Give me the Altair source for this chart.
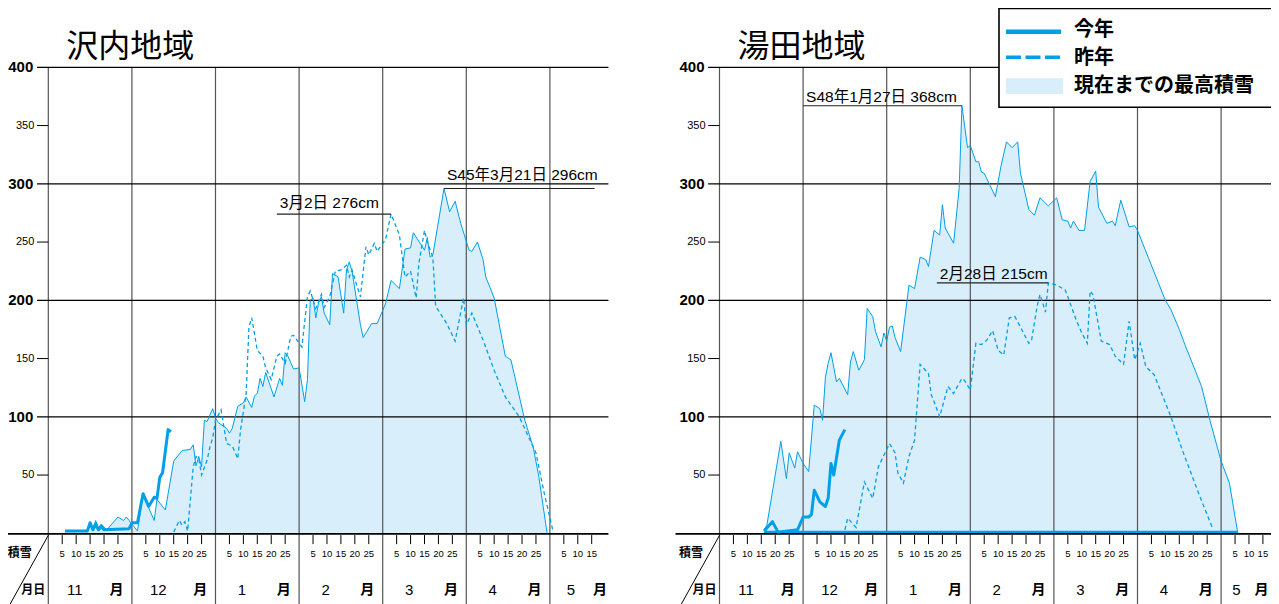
import altair as alt
import pandas as pd

# ---------------- data ----------------
MONTHS = [11, 12, 1, 2, 3, 4, 5]
MONTH_NAMES = ["11", "12", "1", "2", "3", "4", "5"]
DAY_TICKS = [5, 10, 15, 20, 25]
LAST_MONTH_TICKS = [5, 10, 15]
Y_MAJOR = [100, 200, 300, 400]
Y_MINOR = [50, 150, 250, 350]
REGIONS = ["沢内地域", "湯田地域"]
LEGEND_LABELS = ["今年", "昨年", "現在までの最高積雪"]

# 沢内地域 : highest snow depth so far (envelope)
SAWA_MAX_DATES = ["11/6", "11/14", "11/15", "11/16", "11/17", "11/18", "11/19", "11/21", "11/25", "11/27", "11/28", "11/30",
                  "12/2", "12/4", "12/6", "12/8", "12/9", "12/12", "12/15", "12/18", "12/21", "12/22", "12/23", "12/24", "12/25", "12/26", "12/27", "12/29", "12/30",
                  "1/1", "1/4", "1/5", "1/6", "1/8", "1/10", "1/11", "1/13", "1/14", "1/15", "1/16", "1/17", "1/18", "1/21", "1/23", "1/24", "1/25", "1/26", "1/28", "1/30",
                  "2/2", "2/3", "2/4", "2/5", "2/6", "2/7", "2/8", "2/9", "2/11", "2/12", "2/14", "2/16", "2/17", "2/18", "2/19", "2/22", "2/23", "2/26", "2/28",
                  "3/1", "3/3", "3/6", "3/8", "3/10", "3/11", "3/15", "3/16", "3/17", "3/18", "3/22", "3/24", "3/26", "3/28",
                  "4/1", "4/2", "4/4", "4/6", "4/7", "4/10", "4/14", "4/16", "4/21", "4/24", "4/26", "4/29"]
SAWA_MAX = [2, 2, 10, 3, 11, 4, 8, 3, 14, 11, 14, 8,
            2, 34, 22, 11, 29, 20, 62, 71, 72, 76, 58, 66, 57, 97, 96, 107, 99,
            95, 90, 86, 90, 109, 112, 117, 108, 118, 120, 133, 126, 138, 117, 133, 127, 155, 152, 141, 142,
            113, 132, 200, 202, 185, 198, 203, 189, 179, 223, 220, 189, 226, 233, 225, 179, 168, 180, 180,
            197, 217, 210, 244, 245, 258, 243, 254, 237, 239, 296, 276, 285, 266,
            243, 242, 250, 235, 220, 202, 152, 149, 97, 74, 49, 0]

# 沢内地域 : this season
SAWA_NOW_DATES = ["11/6", "11/14", "11/15", "11/16", "11/17", "11/18", "11/19", "11/20", "11/29", "11/30",
                  "12/2", "12/4", "12/6", "12/8", "12/9", "12/10", "12/11", "12/13", "12/14"]
SAWA_NOW = [2, 2, 9, 3, 8, 3, 6, 3, 4, 9,
            9, 34, 23, 31, 30, 48, 52, 89, 87]

# 沢内地域 : last season
SAWA_LAST_DATES = ["12/15", "12/17", "12/18", "12/19", "12/20", "12/22", "12/23", "12/24", "12/25", "12/27", "12/28", "12/29", "12/30",
                   "1/2", "1/4", "1/6", "1/8", "1/9", "1/11", "1/12", "1/13", "1/15", "1/17", "1/18", "1/20", "1/22", "1/23", "1/25", "1/27", "1/28",
                   "2/1", "2/3", "2/4", "2/6", "2/8", "2/9", "2/11", "2/13", "2/15", "2/17", "2/18", "2/19", "2/22", "2/24", "2/25", "2/27", "2/28",
                   "3/1", "3/3", "3/6", "3/8", "3/10", "3/12", "3/13", "3/15", "3/16", "3/18", "3/19", "3/23", "3/26", "3/29", "3/30",
                   "4/2", "4/6", "4/10", "4/14", "4/19", "4/25", "4/28", "5/1"]
SAWA_LAST = [1, 11, 7, 10, 2, 57, 66, 64, 50, 63, 74, 82, 97,
             106, 77, 75, 64, 89, 120, 177, 185, 157, 152, 142, 132, 152, 154, 146, 169, 170,
             160, 203, 208, 193, 205, 194, 203, 225, 226, 230, 220, 226, 203, 246, 239, 249, 242,
             252, 274, 256, 220, 225, 202, 232, 260, 250, 237, 195, 180, 165, 202, 179,
             189, 166, 140, 117, 100, 69, 34, 3]

# 湯田地域 : highest snow depth so far (envelope)
YUDA_MAX_DATES = ["11/16", "11/17", "11/22", "11/24", "11/25", "11/27", "11/28", "11/30",
                  "12/2", "12/4", "12/6", "12/7", "12/8", "12/9", "12/10", "12/12", "12/13", "12/16", "12/17", "12/18", "12/20", "12/22", "12/23", "12/25", "12/26", "12/28", "12/29", "12/30",
                  "1/1", "1/2", "1/3", "1/5", "1/8", "1/10", "1/12", "1/14", "1/15", "1/17", "1/19", "1/20", "1/21", "1/24", "1/26", "1/27", "1/29", "1/30",
                  "2/2", "2/3", "2/4", "2/5", "2/7", "2/9", "2/11", "2/13", "2/15", "2/17", "2/18", "2/21", "2/23", "2/25", "2/28",
                  "3/1", "3/3", "3/5", "3/6", "3/7", "3/9", "3/11", "3/13", "3/15", "3/16", "3/19", "3/21", "3/22", "3/24", "3/27", "3/29", "3/30",
                  "4/4", "4/10", "4/12", "4/15", "4/17", "4/23", "4/26", "4/30", "5/3", "5/6"]
YUDA_MAX = [3, 7, 79, 47, 69, 56, 70, 60,
            53, 110, 107, 97, 134, 146, 155, 130, 133, 119, 147, 156, 140, 149, 193, 186, 173, 160, 172, 165,
            177, 178, 168, 156, 213, 210, 237, 235, 229, 260, 256, 282, 262, 249, 296, 367, 331, 333,
            319, 319, 310, 309, 299, 289, 315, 336, 331, 336, 309, 278, 273, 288, 281,
            288, 269, 268, 262, 268, 260, 260, 302, 311, 280, 266, 268, 264, 286, 263, 264, 260,
            236, 200, 192, 175, 162, 126, 97, 62, 43, 0]

# 湯田地域 : this season
YUDA_NOW_DATES = ["11/16", "11/19", "11/21", "11/28", "11/30",
                  "12/2", "12/3", "12/4", "12/6", "12/8", "12/9", "12/10", "12/11", "12/13", "12/15"]
YUDA_NOW = [2, 10, 1, 3, 14,
            14, 16, 37, 27, 23, 30, 60, 50, 80, 89]

# 湯田地域 : last season
YUDA_LAST_DATES = ["12/15", "12/16", "12/19", "12/22", "12/25", "12/27",
                   "1/1", "1/3", "1/4", "1/6", "1/8", "1/10", "1/12", "1/15", "1/16", "1/17", "1/19", "1/22", "1/24", "1/27", "1/28", "1/30",
                   "2/2", "2/4", "2/6", "2/8", "2/10", "2/12", "2/14", "2/16", "2/18", "2/21", "2/22", "2/24", "2/25", "2/27", "2/28",
                   "3/1", "3/4", "3/5", "3/8", "3/10", "3/12", "3/13", "3/14", "3/17", "3/20", "3/22", "3/25", "3/27", "3/29",
                   "4/1", "4/3", "4/6", "4/12", "4/16", "4/22", "4/27"]
YUDA_LAST = [3, 13, 5, 44, 30, 57,
             77, 69, 52, 43, 66, 80, 145, 137, 119, 113, 100, 126, 120, 133, 131, 123,
             163, 162, 166, 174, 157, 153, 185, 186, 177, 163, 166, 195, 205, 190, 215,
             213, 209, 203, 183, 172, 163, 208, 205, 165, 162, 152, 145, 182, 149,
             163, 143, 136, 100, 72, 34, 4]

# records written on the chart
ANNOT_TEXT = ["S45年3月21日 296cm", "3月2日 276cm", "S48年1月27日 368cm", "2月28日 215cm"]
ANNOT_PANEL = [0, 0, 1, 1]
ANNOT_FROM = ["3/22", "1/22", "11/30", "1/18"]
ANNOT_TO = ["5/16", "3/3", "1/27", "2/28"]
ANNOT_CM = [296, 274, 367, 215]

# ---------------- styling / layout ----------------
BLUE = "#00a0e9"
FILL = "#d9eefb"
NUM_FONT = "Liberation Sans Narrow, Liberation Sans, Arial, sans-serif"
JP_FONT = "Noto Sans CJK JP, sans-serif"
MIX_FONT = "Liberation Sans, Noto Sans CJK JP, sans-serif"

W, H = 1263, 596
PX_DAY = 83.6 / 30          # one day slot (each month is drawn 30 slots wide)
PX_CM = 466.0 / 400         # one cm of snow
ORIGIN_X = 40.3             # 11/1 of the first panel, in plot pixels
ZERO_Y = 525.3              # 0 cm line, in plot pixels
SHIFT = 671.2 / PX_DAY      # second panel offset, in day slots
END_SLOT = 201              # right end of each panel
LAST_MONTH_LABEL_POS = {0: (7.5, 18.0), 1: (5.5, 14.5)}   # (number, 月) slots in May per panel


def slot(d):
    m, day = d.split("/")
    return MONTHS.index(int(m)) * 30 + int(day)


def px_days(p):
    return p / PX_DAY


def px_cm(p):
    return p / PX_CM


Y_BOTTOM = (ZERO_Y - H) / PX_CM
XS = alt.Scale(domain=[-ORIGIN_X / PX_DAY, (W - ORIGIN_X) / PX_DAY], nice=False, zero=False)
YS = alt.Scale(domain=[Y_BOTTOM, ZERO_Y / PX_CM], nice=False, zero=False)


def X(f="x"):
    return alt.X(f + ":Q", scale=XS, axis=None)


def Y(f="y"):
    return alt.Y(f + ":Q", scale=YS, axis=None)


def frame(series):
    rows = []
    for panel, dates, vals in series:
        assert len(dates) == len(vals), (panel, len(dates), len(vals))
        for d, v in zip(dates, vals):
            rows.append({"x": slot(d) + panel * SHIFT, "y": v, "base": 0, "panel": panel})
    return pd.DataFrame(rows)


max_df = frame([(0, SAWA_MAX_DATES, SAWA_MAX), (1, YUDA_MAX_DATES, YUDA_MAX)])
now_df = frame([(0, SAWA_NOW_DATES, SAWA_NOW), (1, YUDA_NOW_DATES, YUDA_NOW)])
last_df = frame([(0, SAWA_LAST_DATES, SAWA_LAST), (1, YUDA_LAST_DATES, YUDA_LAST)])

PANELS = [0, 1]

month_df = pd.DataFrame([{"x": i * 30 + p * SHIFT, "y": 400, "y2": Y_BOTTOM}
                         for p in PANELS for i in range(len(MONTHS))])
grid_df = pd.DataFrame([{"x": -px_days(11.3) + p * SHIFT, "x0": p * SHIFT, "x2": END_SLOT + p * SHIFT,
                         "y": v, "label": str(v)}
                        for p in PANELS for v in Y_MAJOR])
minor_df = pd.DataFrame([{"x": -px_days(11.3) + p * SHIFT, "x2": p * SHIFT, "y": v, "label": str(v)}
                         for p in PANELS for v in Y_MINOR])
axis_df = pd.DataFrame([{"x": -px_days(44) + p * SHIFT, "x2": END_SLOT + p * SHIFT, "y": -px_cm(0.6)} for p in PANELS])
base_df = pd.DataFrame([{"x": slot(YUDA_MAX_DATES[0]) + SHIFT, "x2": slot(YUDA_MAX_DATES[-1]) + SHIFT, "y": px_cm(1.2)}])

tick_rows = []
for p in PANELS:
    for i, m in enumerate(MONTHS):
        for d in (LAST_MONTH_TICKS if i == len(MONTHS) - 1 else DAY_TICKS):
            tick_rows.append({"x": i * 30 + d + p * SHIFT, "y": -px_cm(1.8), "y2": -px_cm(10.8),
                              "ly": -px_cm(20.5), "label": str(d)})
tick_df = pd.DataFrame(tick_rows)

mon_rows = []
for p in PANELS:
    for i, name in enumerate(MONTH_NAMES):
        if i == len(MONTHS) - 1:
            pos_num, pos_kanji = LAST_MONTH_LABEL_POS[p]
        else:
            pos_num, pos_kanji = 9.5, 24.5
        mon_rows.append({"x": i * 30 + pos_num + p * SHIFT, "y": -px_cm(56.5), "label": name, "kind": "num"})
        mon_rows.append({"x": i * 30 + pos_kanji + p * SHIFT, "y": -px_cm(56.5), "label": "月", "kind": "kanji"})
mon_df = pd.DataFrame(mon_rows)

corner_df = pd.DataFrame([{"x": p * SHIFT - px_days(28.5), "y": -px_cm(20), "label": "積雪"} for p in PANELS] +
                         [{"x": p * SHIFT - px_days(15), "y": -px_cm(56.5), "label": "月日"} for p in PANELS])
slash_df = pd.DataFrame([{"x": p * SHIFT, "y": -px_cm(2), "x2": p * SHIFT - px_days(38.3), "y2": -px_cm(71)} for p in PANELS])

title_df = pd.DataFrame([{"x": p * SHIFT, "y": 400, "label": REGIONS[p]} for p in PANELS])

ANNOT_LIFT = [13.5, 11, 8.5, 9]
ann_df = pd.DataFrame([{"x": slot(f) + p * SHIFT, "x2": slot(t) + p * SHIFT, "y": c,
                        "ty": c + px_cm(lift), "label": txt}
                       for txt, p, f, t, c, lift in zip(ANNOT_TEXT, ANNOT_PANEL, ANNOT_FROM, ANNOT_TO, ANNOT_CM, ANNOT_LIFT)])

one = pd.DataFrame({"a": [0]})

# ---------------- layers ----------------
area = alt.Chart(max_df).mark_area(color=FILL, interpolate="linear").encode(
    x=X(), y=Y(), y2="base:Q", detail="panel:N")
month_lines = alt.Chart(month_df).mark_rule(color="#555555", strokeWidth=1.2).encode(x=X(), y=Y(), y2="y2:Q")
grid = alt.Chart(grid_df).mark_rule(color="black", strokeWidth=1.3).encode(x=X(), x2="x2:Q", y=Y())
minor = alt.Chart(minor_df).mark_rule(color="black", strokeWidth=1).encode(x=X(), x2="x2:Q", y=Y())
base_line = alt.Chart(base_df).mark_rule(color=BLUE, strokeWidth=2.5).encode(x=X(), x2="x2:Q", y=Y())
axis_line = alt.Chart(axis_df).mark_rule(color="black", strokeWidth=1.8).encode(x=X(), x2="x2:Q", y=Y())
ticks = alt.Chart(tick_df).mark_rule(color="black", strokeWidth=1).encode(x=X(), y=Y(), y2="y2:Q")
tick_labels = alt.Chart(tick_df).mark_text(font=NUM_FONT, fontSize=9.5, align="center", baseline="middle").encode(
    x=X(), y=Y("ly"), text="label:N")
mon_num = alt.Chart(mon_df).transform_filter("datum.kind == 'num'").mark_text(
    font=NUM_FONT, fontSize=15, align="center", baseline="middle").encode(x=X(), y=Y(), text="label:N")
mon_kanji = alt.Chart(mon_df).transform_filter("datum.kind == 'kanji'").mark_text(
    font=JP_FONT, fontSize=14, fontWeight="bold", align="center", baseline="middle").encode(x=X(), y=Y(), text="label:N")
corner = alt.Chart(corner_df).mark_text(font=JP_FONT, fontSize=12, fontWeight="bold", align="center",
                                         baseline="middle").encode(x=X(), y=Y(), text="label:N")
slash = alt.Chart(slash_df).mark_rule(color="black", strokeWidth=1).encode(x=X(), x2="x2:Q", y=Y(), y2="y2:Q")

ylab_major = alt.Chart(grid_df).mark_text(font=NUM_FONT, fontSize=15, fontWeight="bold", align="right",
                                          baseline="middle", dx=-15).encode(
    x=X("x0"), y=Y(), text="label:N")
ylab_minor = alt.Chart(minor_df).mark_text(font=NUM_FONT, fontSize=11, align="right", baseline="middle", dx=-14).encode(
    x=X("x2"), y=Y(), text="label:N")

max_line = alt.Chart(max_df).mark_line(color=BLUE, strokeWidth=1, interpolate="linear").encode(
    x=X(), y=Y(), detail="panel:N")
last_line = alt.Chart(last_df).mark_line(color=BLUE, strokeWidth=1.3, strokeDash=[4, 3]).encode(
    x=X(), y=Y(), detail="panel:N")
now_line = alt.Chart(now_df).mark_line(color=BLUE, strokeWidth=3, strokeJoin="round").encode(
    x=X(), y=Y(), detail="panel:N")

ann_rules = alt.Chart(ann_df).mark_rule(color="#222222", strokeWidth=1.1).encode(x=X(), x2="x2:Q", y=Y())
ann_text = alt.Chart(ann_df).mark_text(font=MIX_FONT, fontSize=15.5, align="left", baseline="middle", dx=3).encode(
    x=X(), y=Y("ty"), text="label:N")

titles = alt.Chart(title_df).mark_text(font=JP_FONT, fontSize=32, align="left", baseline="middle",
                                       dx=18, dy=-20).encode(x=X(), y=Y(), text="label:N")

# legend (fixed position box, top right)
leg_box = alt.Chart(one).mark_rect(fill="white", stroke="black", strokeWidth=1.6).encode(
    x=alt.value(991), x2=alt.value(1300), y=alt.value(0.5), y2=alt.value(99.3))
leg_now = alt.Chart(one).mark_rule(color=BLUE, strokeWidth=4.6).encode(
    x=alt.value(998), x2=alt.value(1053), y=alt.value(23.7))
leg_last = alt.Chart(one).mark_rule(color=BLUE, strokeWidth=3.5, strokeDash=[15, 4.5]).encode(
    x=alt.value(998), x2=alt.value(1053), y=alt.value(49.2))
leg_fill = alt.Chart(one).mark_rect(color=FILL).encode(
    x=alt.value(998), x2=alt.value(1055), y=alt.value(70.3), y2=alt.value(86))
leg_text = [
    alt.Chart(one).mark_text(font=JP_FONT, fontSize=20, fontWeight="bold", align="left", baseline="middle").encode(
        x=alt.value(1066), y=alt.value(yy), text=alt.value(lbl))
    for lbl, yy in zip(LEGEND_LABELS, [22, 49.5, 78])
]

chart = alt.layer(
    area, month_lines, grid, minor, base_line, axis_line, ticks, slash,
    max_line, last_line, now_line, ann_rules,
    tick_labels, mon_num, mon_kanji, corner, ylab_major, ylab_minor, ann_text, titles,
    leg_box, leg_now, leg_last, leg_fill, *leg_text,
).properties(
    width=W, height=H, autosize=alt.AutoSizeParams(type="none"), padding=0, background="white"
).configure_view(stroke=None)

chart.save("out.html", embed_options={"renderer": "svg", "actions": False})
